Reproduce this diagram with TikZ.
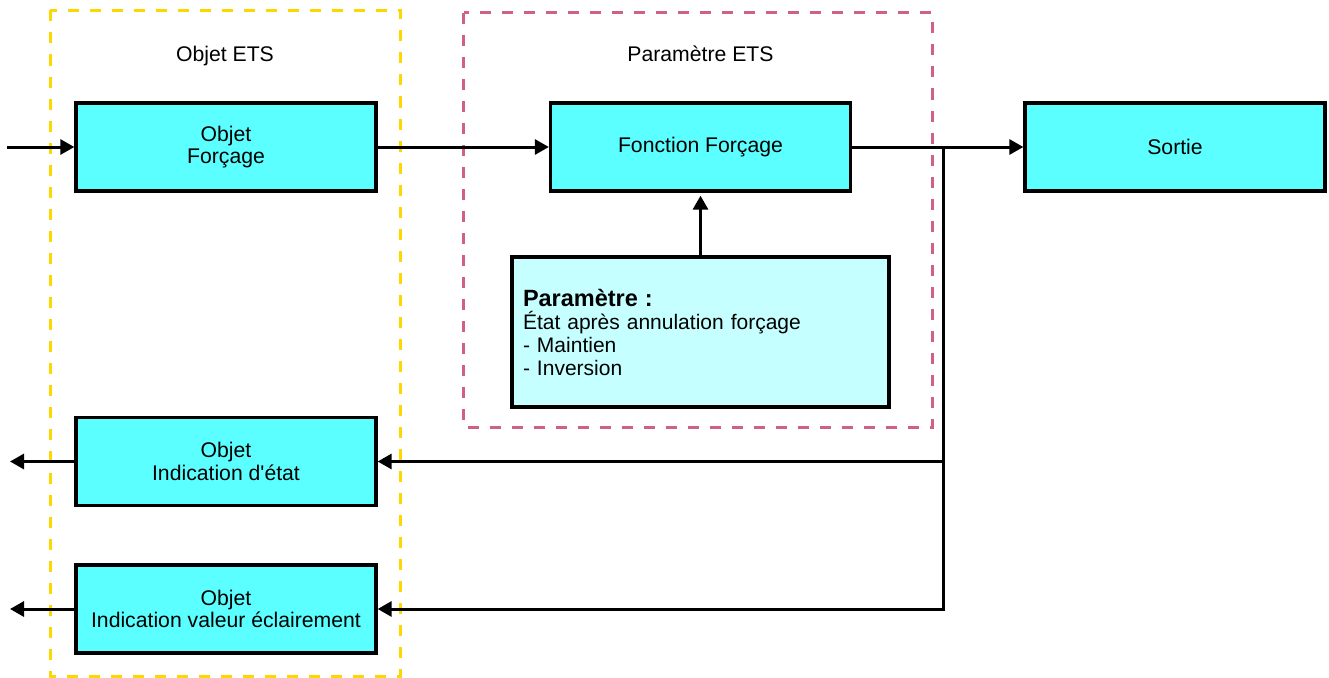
\documentclass[tikz,border=0pt]{standalone}
\usepackage{fontspec}
\setmainfont{Liberation Sans}
\usetikzlibrary{arrows.meta}
\definecolor{boxcyan}{HTML}{5BFFFF}
\definecolor{paramcyan}{HTML}{C6FFFF}
\definecolor{ylw}{HTML}{FFD700}
\definecolor{pnk}{HTML}{D0608A}
\begin{document}
\begin{tikzpicture}[x=1pt,y=-1pt,
  blk/.style={draw=black,line width=3.3pt,fill=boxcyan,minimum width=300pt,minimum height=88pt,inner sep=0pt,align=center,font=\fontsize{21.2}{22.5}\selectfont},
  pbox/.style={draw=black,line width=3.3pt,fill=paramcyan,minimum width=377pt,minimum height=150pt,inner sep=0pt,align=left,text width=355pt,font=\fontsize{21}{23}\selectfont},
  conn/.style={line width=3pt,-{Triangle[length=14pt,width=15pt]}},
  grp/.style={dash pattern=on 11pt off 11pt,line width=3pt},
  lbl/.style={font=\fontsize{21.2}{22.5}\selectfont,inner sep=0pt,anchor=base}]
\useasboundingbox (0,0) rectangle (1329,677);
% groups
\draw[grp,draw=ylw] (50,10.5) rectangle (400,676);
\draw[grp,draw=pnk] (463.5,13) rectangle (932,427);
\node[lbl] (gl1) at (225,61) {Objet ETS};
\node[lbl] (gl2) at (700.5,61) {Paramètre ETS};
% blocks
\node[blk] (of) at (226,147) {Objet\\Forçage};
\node[blk] (ff) at (700.5,147) {Fonction Forçage};
\node[blk] (so) at (1175,147) {Sortie};
\node[blk] (ie) at (226,461.5) {Objet\\Indication d\textquotesingle état};
\node[blk] (iv) at (226,609) {Objet\\Indication valeur éclairement};
\node[pbox] (pb) at (700.5,332) {{\fontsize{23.5}{24}\selectfont\bfseries Paramètre :}\\État après annulation forçage\\- Maintien\\- Inversion};
% coordinates
\coordinate (in) at (7,147);
\coordinate (o1) at (10,461.5);
\coordinate (o2) at (10,609);
\coordinate (j1) at (943.5,147);
\coordinate (j2) at (943.5,461.5);
% connectors
\draw[conn] (in) -- (of.west);
\draw[conn] (of.east) -- (ff.west);
\draw[conn] (ff.east) -- (so.west);
\draw[conn,shorten >=3pt] (pb.north) -- (ff.south);
\draw[conn] (j1) |- (iv.east);
\draw[conn] (j2) -- (ie.east);
\draw[conn] (ie.west) -- (o1);
\draw[conn] (iv.west) -- (o2);
\end{tikzpicture}
\end{document}
